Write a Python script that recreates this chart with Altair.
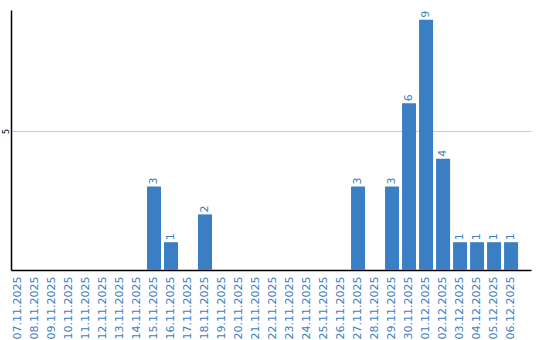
import altair as alt
import pandas as pd

dates = ["07.11.2025", "08.11.2025", "09.11.2025", "10.11.2025", "11.11.2025",
         "12.11.2025", "13.11.2025", "14.11.2025", "15.11.2025", "16.11.2025",
         "17.11.2025", "18.11.2025", "19.11.2025", "20.11.2025", "21.11.2025",
         "22.11.2025", "23.11.2025", "24.11.2025", "25.11.2025", "26.11.2025",
         "27.11.2025", "28.11.2025", "29.11.2025", "30.11.2025", "01.12.2025",
         "02.12.2025", "03.12.2025", "04.12.2025", "05.12.2025", "06.12.2025"]
counts = [0, 0, 0, 0, 0, 0, 0, 0, 3, 1,
          0, 2, 0, 0, 0, 0, 0, 0, 0, 0,
          3, 0, 3, 6, 9, 4, 1, 1, 1, 1]

df = pd.DataFrame({"date": dates, "count": counts})
df["label"] = df["count"].apply(lambda v: str(v) if v > 0 else "")

BLUE = "#3a7ec4"
FONT = "DejaVu Sans"

x_enc = alt.X("date:N", sort=dates, title=None,
              scale=alt.Scale(paddingInner=0.176, paddingOuter=0.38, align=0),
              axis=alt.Axis(labelAngle=270, labelAlign="right", labelBaseline="middle",
                            labelColor=BLUE, labelFont=FONT, labelFontSize=11,
                            labelPadding=6, ticks=False, domainColor="#000000",
                            domainWidth=1.5, labelOverlap=False, grid=False))
y_scale = alt.Scale(domain=[0, 9.35], nice=False)

bars = alt.Chart(df).mark_bar(color=BLUE).encode(
    x=x_enc,
    y=alt.Y("count:Q", scale=y_scale, title=None,
            axis=alt.Axis(values=[5], labelAngle=270, labelAlign="center",
                          labelBaseline="middle", labelFont=FONT, labelFontSize=8,
                          labelColor="#000000", labelPadding=5, ticks=False,
                          domainColor="#000000", domainWidth=1.5,
                          grid=True, gridColor="#cccccc", gridWidth=1)),
)

text = alt.Chart(df).mark_text(angle=270, align="left", baseline="middle",
                               dx=2, color=BLUE, font=FONT, fontSize=11).encode(
    x=alt.X("date:N", sort=dates),
    y=alt.Y("count:Q", scale=y_scale),
    text="label:N",
)

chart = (bars + text).properties(
    width=520, height=260,
    background="white",
    autosize=alt.AutoSizeParams(type="none"),
    padding={"left": 11, "top": 10, "right": 9, "bottom": 70},
).configure_view(stroke=None)

chart.save("out.html", embed_options={"renderer": "svg", "actions": False})
